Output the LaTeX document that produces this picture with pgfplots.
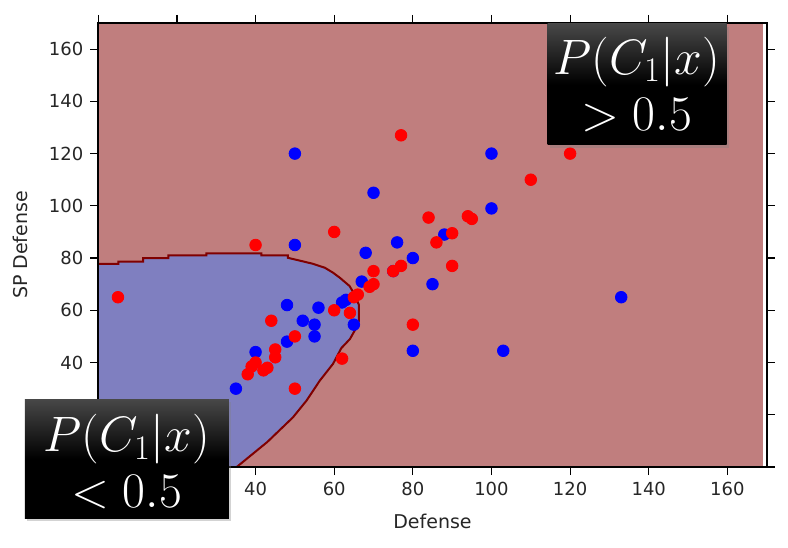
\documentclass[border=0pt]{standalone}
\usepackage{fontspec}
\setmainfont{DejaVu Sans}
\usepackage{pgfplots}
\pgfplotsset{compat=1.18}
\usetikzlibrary{shadows}
\definecolor{bgred}{RGB}{192,126,126}
\definecolor{bgblue}{RGB}{127,127,192}
\definecolor{edgered}{RGB}{128,0,0}

% Defense vs SP Defense, class 2 (blue)
\pgfplotstableread{
x y
50 120
70 105
100 120
100 99
50 85
76 86
68 82
88 89
80 80
75 75
85 70
67 71
62 63
63 64
65 54.5
48 62
56 61
52 56
55 54.5
55 50
48 48
40 44
35 30
80 44.5
103 44.5
133 65
}\bluepts

% class 1 (red)
\pgfplotstableread{
x y
5 65
40 85
60 90
77 127
120 120
110 110
84 95.5
94 96
95 95
86 86
90 89.5
70 75
75 75
77 77
90 77
69 69
70 70
65 65
66 66
80 54.5
60 60
64 59
44 56
50 50
45 45
45 42
40 40
39 38.5
38 35.5
42 37
43 38
50 30
62 41.5
}\redpts

\begin{document}
\begin{tikzpicture}
\useasboundingbox (-49.15pt,-40pt) rectangle (344.85pt,233.5pt);
\begin{axis}[
  at={(0,0)}, anchor=south west,
  scale only axis, width=334.2pt, height=222pt,
  xmin=0, xmax=170, ymin=0, ymax=170,
  xtick={0,20,...,160}, ytick={0,20,...,160},
  % labels 0 and 20 sit under the annotation box
  xticklabels={{},{},40,60,80,100,120,140,160},
  yticklabels={{},{},40,60,80,100,120,140,160},
  tick align=outside, tick pos=both,
  major tick length=4pt,
  tick style={black, line width=0.6pt},
  axis line style={line width=0.9pt},
  /pgf/number format/assume math mode=true,
  ticklabel style={font=\fontsize{9}{10}\selectfont, text=black!85},
  label style={font=\fontsize{9.5}{11}\selectfont, text=black!85},
  xlabel={Defense}, ylabel={SP Defense},
  xlabel style={at={(axis description cs:0.5,-0.123)}, anchor=center},
  ylabel style={at={(axis description cs:-0.117,0.5)}, anchor=center},
  axis on top,
]
  % background: P(C1|x) > 0.5
  \addplot[fill=bgred, draw=none] coordinates {(0,170) (169.1,170)} \closedcycle;
  % region P(C1|x) < 0.5
  \addplot[fill=bgblue, draw=none] coordinates {
    (0,0) (0,77.8) (5.1,77.8) (5.1,78.6) (11.4,78.6) (11.4,80.0) (17.8,80.0)
    (17.8,81.0) (27.5,81.0) (27.5,81.8) (41.5,81.8) (41.5,81.0) (48.2,81.0)
    (48.2,80.1) (51.3,79.0) (54.6,77.8) (57.6,76.3) (59.7,74.4) (61.4,72.5)
    (63.9,69.3) (65.2,66.0) (66.3,62) (66.3,56) (65.5,53) (64,49) (61.8,45.5)
    (59.7,39.5) (56.3,33) (53,25.5) (49.5,19) (43,9.6) (35.2,0)} -- cycle;
  \addplot[edgered, line width=1pt] coordinates {
    (0,77.8) (5.1,77.8) (5.1,78.6) (11.4,78.6) (11.4,80.0) (17.8,80.0)
    (17.8,81.0) (27.5,81.0) (27.5,81.8) (41.5,81.8) (41.5,81.0) (48.2,81.0)
    (48.2,80.1) (51.3,79.0) (54.6,77.8) (57.6,76.3) (59.7,74.4) (61.4,72.5)
    (63.9,69.3) (65.2,66.0) (66.3,62) (66.3,56) (65.5,53) (64,49) (61.8,45.5)
    (59.7,39.5) (56.3,33) (53,25.5) (49.5,19) (43,9.6) (35.2,0)};
  \addplot[only marks, mark=*, mark size=2.9pt, color=blue, line width=0.4pt] table {\bluepts};
  \addplot[only marks, mark=*, mark size=2.9pt, color=red, line width=0.4pt] table {\redpts};
\end{axis}
% annotation boxes
\path[drop shadow={opacity=0.35, shadow xshift=1.2pt, shadow yshift=-1.5pt},
      top color=black!72, bottom color=black, middle color=black]
  (224.7pt,161pt) rectangle (314.2pt,221.5pt);
\node[text=white, font=\fontsize{24}{28}\selectfont, align=center, inner sep=0pt]
  at (269.2pt,191.3pt) {$P(C_1|x)$\\[0pt]$>0.5$};
\path[drop shadow={opacity=0.35, shadow xshift=1.2pt, shadow yshift=-1.5pt},
      top color=black!72, bottom color=black, middle color=black]
  (-36.65pt,-25.65pt) rectangle (65.35pt,33.85pt);
\node[text=white, font=\fontsize{24}{28}\selectfont, align=center, inner sep=0pt]
  at (14.2pt,2.7pt) {$P(C_1|x)$\\[0pt]$<0.5$};
\end{tikzpicture}
\end{document}
